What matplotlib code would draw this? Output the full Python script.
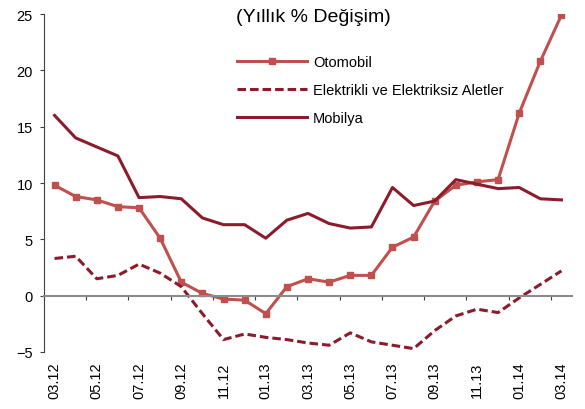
import numpy as np
import matplotlib.pyplot as plt

plt.rcParams['font.family'] = ['Liberation Sans', 'DejaVu Sans']

# monthly data, 03.12 .. 03.14
months = ['03.12', '04.12', '05.12', '06.12', '07.12', '08.12', '09.12', '10.12',
          '11.12', '12.12', '01.13', '02.13', '03.13', '04.13', '05.13', '06.13',
          '07.13', '08.13', '09.13', '10.13', '11.13', '12.13', '01.14', '02.14',
          '03.14']

otomobil = [9.8, 8.8, 8.5, 7.9, 7.8, 5.1, 1.2, 0.2, -0.3, -0.4, -1.6, 0.8, 1.5,
            1.2, 1.8, 1.8, 4.3, 5.2, 8.4, 9.8, 10.1, 10.3, 16.2, 20.8, 24.9]
elektrikli = [3.3, 3.5, 1.5, 1.8, 2.8, 2.0, 0.8, -1.6, -3.9, -3.4, -3.7, -3.9,
              -4.2, -4.4, -3.3, -4.1, -4.4, -4.7, -3.1, -1.8, -1.2, -1.5, -0.2,
              1.0, 2.2]
mobilya = [16.0, 14.0, 13.2, 12.4, 8.7, 8.8, 8.6, 6.9, 6.3, 6.3, 5.1, 6.7, 7.3,
           6.4, 6.0, 6.1, 9.6, 8.0, 8.4, 10.3, 9.9, 9.5, 9.6, 8.6, 8.5]

title = '(Yıllık % Değişim)'
light_red = '#C0504D'
dark_red = '#8C1C2B'

fig = plt.figure(figsize=(5.85, 4.1), dpi=100)
ax = fig.add_axes([44 / 585, 1 - 353 / 410, 528 / 585, 338 / 410])

x = np.arange(len(months))
ax.plot(x, otomobil, color=light_red, lw=2.2, marker='s', markersize=5,
        label='Otomobil')
ax.plot(x, elektrikli, color=dark_red, lw=2.2, linestyle=(0, (2.8, 1.3)),
        label='Elektrikli ve Elektriksiz Aletler')
ax.plot(x, mobilya, color=dark_red, lw=2.2, label='Mobilya')

ax.set_xlim(-0.5, len(months) - 0.5)
ax.set_ylim(-5, 25)
ax.set_yticks(np.arange(-5, 26, 5))

# x axis line sits at zero, labels stay below the plot
ax.spines['bottom'].set_position(('data', 0))
ax.spines['bottom'].set_color('#8c8c8c')
ax.spines['bottom'].set_linewidth(1.5)
ax.spines['left'].set_color('#404040')
ax.spines['left'].set_linewidth(0.8)
ax.spines['top'].set_visible(False)
ax.spines['right'].set_visible(False)

ax.set_xticks(x[::2])
ax.set_xticklabels(months[::2], rotation=90)
ax.set_xticks(np.arange(-0.5, len(months) - 1, 2), minor=True)
ax.tick_params(axis='x', which='major', length=0, pad=47.5, labelsize=10.5)
ax.tick_params(axis='x', which='minor', length=3, width=0.8,
               color='#404040', direction='out')
ax.tick_params(axis='y', length=3, width=0.8, color='#404040', pad=5,
               labelsize=10.5)

fig.text(313 / 585, 1 - 17 / 410, title, ha='center', va='center', fontsize=14)

fig.legend(loc='upper left', bbox_to_anchor=(237 / 585, 1 - 56 / 410),
           frameon=False, fontsize=10.5, handlelength=4.8, handletextpad=0.4,
           labelspacing=0.95, borderpad=0, borderaxespad=0)

fig.savefig('out.png', dpi=100)
